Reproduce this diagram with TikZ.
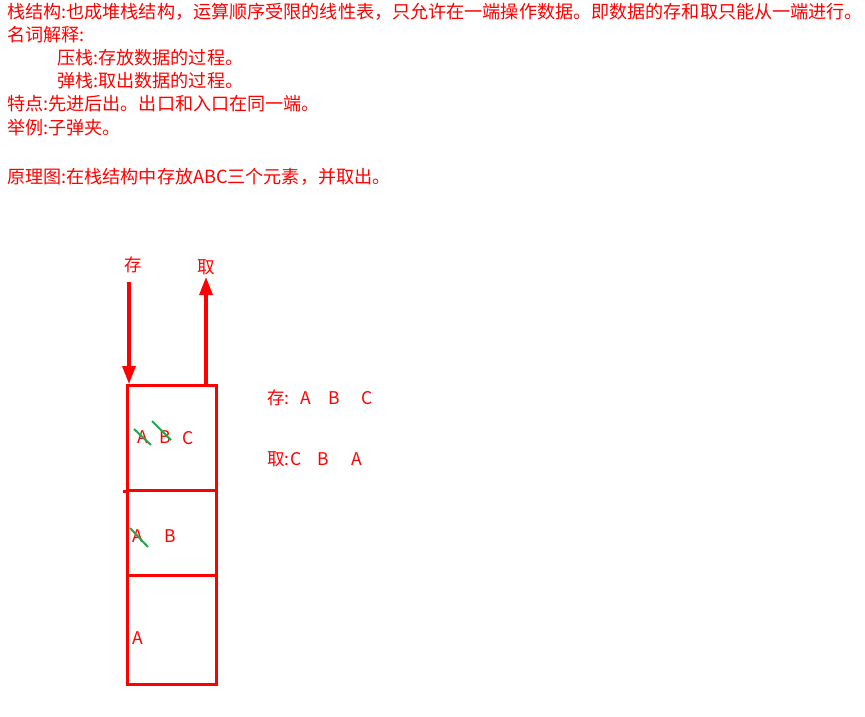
\documentclass[tikz,border=0pt]{standalone}
\usepackage{fontspec}
\newfontfamily\cjk{Noto Sans CJK SC}
\usetikzlibrary{arrows.meta}
\definecolor{txtred}{HTML}{FF0000}
\definecolor{strikegreen}{HTML}{22A84A}
\begin{document}
\begin{tikzpicture}[x=1pt,y=-1pt,
  line/.style={anchor=west,inner sep=0pt,text=txtred,font=\cjk\fontsize{18.1}{20}\selectfont},
  lbl/.style={inner sep=0pt,text=txtred,font=\cjk\fontsize{17.5}{20}\selectfont},
  cell/.style={draw=txtred,line width=2.6pt,minimum width=89pt,inner sep=0pt,anchor=north west},
  arr/.style={draw=txtred,line width=3.2pt,-{Triangle[length=18pt,width=13pt]}},
  strike/.style={draw=strikegreen,line width=2pt}]
\useasboundingbox (0,0) rectangle (865,716);
% header text
\node[line] (t1) at (7,12) {栈结构:也成堆栈结构，运算顺序受限的线性表，只允许在一端操作数据。即数据的存和取只能从一端进行。};
\node[line] (t2) at (7,35) {名词解释:};
\node[line] (t3) at (57,58) {压栈:存放数据的过程。};
\node[line] (t4) at (57,81) {弹栈:取出数据的过程。};
\node[line] (t5) at (7,104) {特点:先进后出。出口和入口在同一端。};
\node[line] (t6) at (7,128) {举例:子弹夹。};
\node[line] (t7) at (7,177) {原理图:在栈结构中存放ABC三个元素，并取出。};
% stack cells
\node[cell,minimum height=105pt] (c1) at (126,384) {};
\node[cell,minimum height=85pt] (c2) at (126,489) {};
\node[cell,minimum height=109pt] (c3) at (126,574) {};
\draw[draw=txtred,line width=2.6pt] (c1.south west) -- ++(-3,0);
% arrows
\coordinate (inStart) at (129,282);
\coordinate (outEnd) at (206,277);
\draw[arr] (inStart) -- (inStart |- c1.north);
\draw[arr] (outEnd |- c1.north) -- (outEnd);
\node[lbl] (lin) at (133,265) {存};
\node[lbl] (lout) at (206,267) {取};
% cell contents
\node[lbl] (a1) at (143,437) {A};
\node[lbl] (b1) at (165,437) {B};
\node[lbl] (cc1) at (188,438) {C};
\draw[strike] (134,429) -- (151,445);
\draw[strike] (152,421) -- (171,440);
\node[lbl] (a2) at (138,536) {A};
\node[lbl] (b2) at (170,536) {B};
\draw[strike] (130,528) -- (148,547);
\node[lbl] (a3) at (138,638) {A};
% right annotations
\node[lbl,anchor=west] (s0) at (267,398) {存:};
\node[lbl] (s1) at (306,398) {A};
\node[lbl] (s2) at (334,398) {B};
\node[lbl] (s3) at (367,398) {C};
\node[lbl,anchor=west] (q0) at (267,459) {取:};
\node[lbl] (q1) at (296,459) {C};
\node[lbl] (q2) at (323,459) {B};
\node[lbl] (q3) at (357,459) {A};
\end{tikzpicture}
\end{document}
